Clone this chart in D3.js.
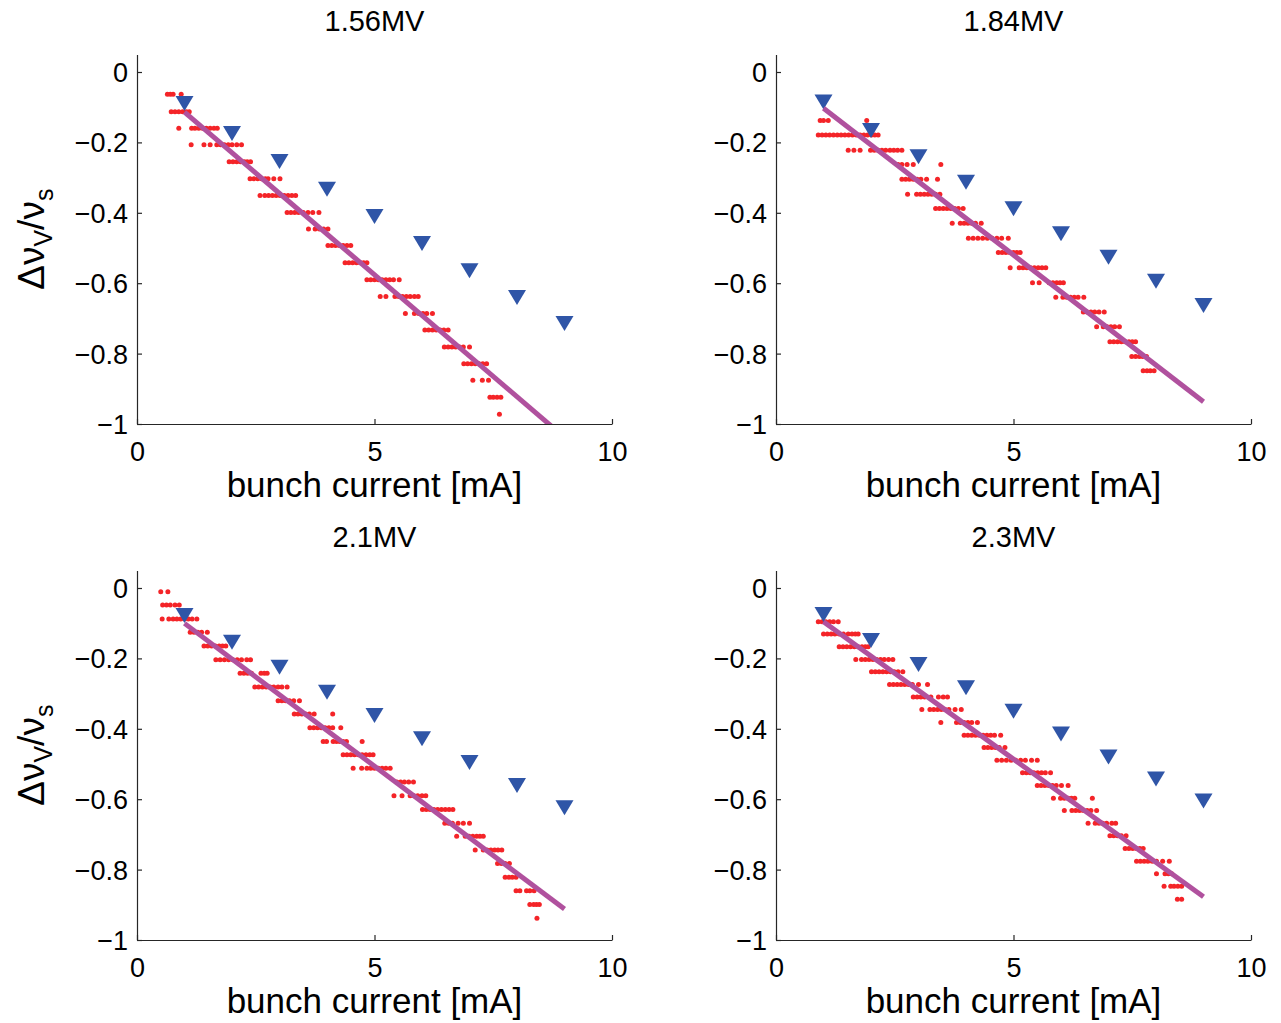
<!DOCTYPE html>
<html lang="en">
<head>
  <meta charset="UTF-8">
  <title>Tune shift vs bunch current</title>
  <style>
    body { margin: 0; background: #fff; }
    svg text { font-family: "Liberation Sans", Arial, sans-serif; fill: #000; }
    .axis path, .axis line { stroke: #262626; stroke-width: 1.2; }
    .axis text { font-size: 27px; }
  </style>
  <script src="https://d3js.org/d3.v7.min.js"></script>
</head>
<body>
  <svg id="chart" width="1281" height="1023"></svg>
  <script>
    // bunch current [mA] of the simulated points
    const currents = [1, 2, 3, 4, 5, 6, 7, 8, 9];
    const xTicks = [0, 5, 10];
    const yTicks = [0, -0.2, -0.4, -0.6, -0.8, -1];
    const titles = ["1.56MV", "1.84MV", "2.1MV", "2.3MV"];

    // simulation (blue triangles)
    const sim156 = [-0.088, -0.173, -0.253, -0.332, -0.409, -0.486, -0.563, -0.639, -0.713];
    const sim184 = [-0.084, -0.165, -0.239, -0.312, -0.387, -0.458, -0.525, -0.593, -0.662];
    const sim210 = [-0.077, -0.153, -0.224, -0.295, -0.361, -0.427, -0.494, -0.560, -0.623];
    const sim230 = [-0.074, -0.148, -0.216, -0.282, -0.349, -0.413, -0.479, -0.541, -0.604];

    // linear fits [current, shift] end points
    const fit156 = [[1, -0.114], [9, -1.038]];
    const fit184 = [[1, -0.103], [9, -0.937]];
    const fit210 = [[1, -0.1005], [9, -0.912]];
    const fit230 = [[1, -0.0957], [9, -0.877]];

    // measurement (red dots), rows of [shift, currents]
    const meas156 = [
      [-0.063, [0.64, 0.70, 0.76, 0.93]],
      [-0.113, [0.72, 0.80, 0.88, 0.96, 1.04, 1.10]],
      [-0.160, [0.88, 1.15, 1.22, 1.30, 1.38, 1.46, 1.54, 1.62, 1.69]],
      [-0.207, [1.14, 1.41, 1.54, 1.68, 1.76, 1.84, 1.92, 2.00, 2.10, 2.20]],
      [-0.255, [1.94, 2.02, 2.10, 2.18, 2.26, 2.32, 2.39]],
      [-0.303, [2.38, 2.46, 2.54, 2.62, 2.70, 2.76, 2.88, 3.01]],
      [-0.351, [2.59, 2.69, 2.77, 2.85, 2.93, 3.01, 3.10, 3.18, 3.26, 3.34]],
      [-0.399, [3.16, 3.24, 3.32, 3.40, 3.50, 3.60, 3.70, 3.83]],
      [-0.446, [3.61, 3.75, 3.84, 3.93, 4.02]],
      [-0.493, [4.02, 4.10, 4.18, 4.26, 4.34, 4.42, 4.50]],
      [-0.542, [4.38, 4.46, 4.54, 4.62, 4.70, 4.77, 4.84]],
      [-0.590, [4.84, 4.92, 5.00, 5.08, 5.16, 5.24, 5.32, 5.40, 5.52]],
      [-0.638, [5.12, 5.24, 5.43, 5.51, 5.59, 5.67, 5.75, 5.84, 5.92]],
      [-0.686, [5.65, 5.84, 5.93, 6.02, 6.10, 6.22]],
      [-0.733, [6.06, 6.14, 6.22, 6.30, 6.38, 6.46, 6.55]],
      [-0.781, [6.47, 6.55, 6.63, 6.71, 6.79, 6.87, 7.00]],
      [-0.829, [6.88, 6.96, 7.04, 7.12, 7.20, 7.28, 7.36]],
      [-0.876, [7.07, 7.27, 7.40]],
      [-0.924, [7.43, 7.50, 7.58, 7.66]],
      [-0.972, [7.63]]
    ];
    const meas184 = [
      [-0.138, [0.93, 1.00, 1.10, 1.91]],
      [-0.179, [0.89, 0.97, 1.05, 1.13, 1.21, 1.29, 1.37, 1.45, 1.53, 1.61, 1.69, 1.77, 1.85, 1.93, 2.01, 2.08, 2.15]],
      [-0.222, [1.52, 1.64, 1.77, 1.99, 2.07, 2.15, 2.23, 2.31, 2.40, 2.48, 2.56, 2.65]],
      [-0.263, [2.57, 2.65, 2.76, 2.89, 3.47]],
      [-0.305, [2.65, 2.73, 2.81, 2.89, 2.97, 3.05, 3.17, 3.40]],
      [-0.347, [2.77, 2.96, 3.04, 3.12, 3.20, 3.28, 3.36, 3.45]],
      [-0.388, [3.36, 3.44, 3.52, 3.60, 3.68, 3.76, 3.84, 3.94]],
      [-0.430, [3.71, 3.88, 3.96, 4.04, 4.12, 4.20, 4.32]],
      [-0.472, [4.05, 4.15, 4.25, 4.35, 4.45, 4.55, 4.65, 4.75, 4.89]],
      [-0.513, [4.68, 4.76, 4.84, 4.92, 5.00, 5.07, 5.14]],
      [-0.556, [4.93, 5.12, 5.20, 5.28, 5.36, 5.44, 5.52, 5.60, 5.68]],
      [-0.599, [5.40, 5.54, 5.75, 5.83, 5.91, 5.98, 6.05]],
      [-0.640, [5.89, 6.04, 6.12, 6.20, 6.28, 6.36, 6.48]],
      [-0.682, [6.47, 6.55, 6.63, 6.71, 6.80, 6.91]],
      [-0.724, [6.75, 6.89, 6.97, 7.05, 7.13, 7.23]],
      [-0.766, [7.03, 7.11, 7.19, 7.27, 7.35, 7.43, 7.50, 7.57]],
      [-0.808, [7.49, 7.57, 7.65, 7.72, 7.80]],
      [-0.849, [7.73, 7.81, 7.88, 7.96]]
    ];
    const meas210 = [
      [-0.011, [0.50, 0.65]],
      [-0.048, [0.54, 0.62, 0.70, 0.80, 0.89]],
      [-0.088, [0.53, 0.67, 0.76, 0.84, 0.92, 1.00, 1.08, 1.16, 1.26]],
      [-0.126, [1.12, 1.20, 1.28, 1.36, 1.48]],
      [-0.165, [1.41, 1.49, 1.57, 1.65, 1.73, 1.80, 1.87]],
      [-0.204, [1.66, 1.75, 1.84, 1.93, 2.02, 2.11, 2.20, 2.31, 2.39]],
      [-0.242, [2.17, 2.25, 2.33, 2.41, 2.61, 2.68, 2.74]],
      [-0.281, [2.48, 2.56, 2.64, 2.72, 2.80, 2.88, 2.97, 3.05, 3.16]],
      [-0.320, [2.97, 3.05, 3.13, 3.21, 3.30, 3.42]],
      [-0.358, [3.31, 3.39, 3.47, 3.55, 3.63, 3.73, 4.12]],
      [-0.397, [3.64, 3.72, 3.80, 3.88, 3.96, 4.04, 4.12, 4.29]],
      [-0.436, [3.92, 3.99, 4.13, 4.20, 4.27, 4.34, 4.41, 4.74]],
      [-0.474, [4.34, 4.42, 4.50, 4.58, 4.66, 4.74, 4.82, 4.90, 4.97]],
      [-0.512, [4.55, 4.73, 4.84, 4.92, 5.00, 5.08, 5.16, 5.24, 5.33]],
      [-0.551, [5.47, 5.55, 5.63, 5.72, 5.82]],
      [-0.590, [5.41, 5.58, 5.75, 5.83, 5.91, 6.00, 6.08]],
      [-0.629, [6.01, 6.09, 6.17, 6.25, 6.33, 6.41, 6.49, 6.57, 6.65]],
      [-0.668, [6.48, 6.56, 6.64, 6.76, 6.87, 7.00]],
      [-0.705, [6.73, 6.91, 6.99, 7.07, 7.15, 7.22, 7.29]],
      [-0.744, [7.12, 7.29, 7.37, 7.45, 7.53, 7.60, 7.68]],
      [-0.783, [7.59, 7.67, 7.75, 7.84]],
      [-0.822, [7.75, 7.83, 7.90, 7.98]],
      [-0.860, [7.98, 8.06, 8.20, 8.27, 8.36]],
      [-0.899, [8.27, 8.35, 8.41, 8.47]],
      [-0.938, [8.42]]
    ];
    const meas230 = [
      [-0.096, [0.89, 0.97, 1.05, 1.13, 1.21, 1.31]],
      [-0.131, [1.00, 1.08, 1.16, 1.24, 1.33, 1.42, 1.52, 1.60, 1.67, 1.73]],
      [-0.167, [1.33, 1.41, 1.49, 1.57, 1.65, 1.73, 1.81, 1.88, 1.94]],
      [-0.203, [1.68, 1.80, 1.88, 1.96, 2.04, 2.12, 2.20, 2.28, 2.37, 2.46]],
      [-0.238, [2.01, 2.09, 2.17, 2.25, 2.33, 2.41, 2.49, 2.57, 2.67]],
      [-0.274, [2.39, 2.47, 2.55, 2.63, 2.71, 2.79, 2.87, 3.00, 3.19]],
      [-0.310, [2.89, 2.97, 3.05, 3.13, 3.26, 3.42, 3.52, 3.61]],
      [-0.345, [3.07, 3.24, 3.32, 3.40, 3.48, 3.56, 3.64, 3.77, 3.90]],
      [-0.382, [3.47, 3.80, 3.88, 3.96, 4.04, 4.12, 4.24]],
      [-0.418, [3.96, 4.04, 4.12, 4.20, 4.28, 4.36, 4.44, 4.52, 4.60, 4.73]],
      [-0.453, [4.38, 4.46, 4.54, 4.62, 4.70, 4.82]],
      [-0.489, [4.65, 4.75, 4.85, 4.95, 5.05, 5.15, 5.25, 5.38, 5.50]],
      [-0.525, [5.19, 5.27, 5.35, 5.43, 5.51, 5.59, 5.67, 5.78]],
      [-0.561, [5.50, 5.58, 5.66, 5.74, 5.82, 5.90, 6.01, 6.15]],
      [-0.597, [5.84, 5.99, 6.07, 6.15, 6.22, 6.29, 6.66]],
      [-0.632, [6.07, 6.23, 6.31, 6.39, 6.47, 6.55, 6.63, 6.75]],
      [-0.668, [6.57, 6.72, 6.80, 6.88, 6.96, 7.07, 7.15]],
      [-0.704, [7.03, 7.11, 7.19, 7.27, 7.37]],
      [-0.740, [7.35, 7.43, 7.51, 7.59, 7.66, 7.73]],
      [-0.776, [7.59, 7.67, 7.75, 7.83, 7.92, 8.01, 8.14, 8.28]],
      [-0.812, [8.01, 8.19, 8.26, 8.33]],
      [-0.847, [8.17, 8.31, 8.38, 8.46, 8.54]],
      [-0.884, [8.45, 8.54]]
    ];

    const svg = d3.select("svg#chart");
    const plotW = 475;
    const plotH = 369.6;

    const panels = [
      { left: 137, top: 54.4, title: titles[0], sim: sim156, fit: fit156, meas: meas156, ylab: true },
      { left: 776, top: 54.4, title: titles[1], sim: sim184, fit: fit184, meas: meas184, ylab: false },
      { left: 137, top: 570.4, title: titles[2], sim: sim210, fit: fit210, meas: meas210, ylab: true },
      { left: 776, top: 570.4, title: titles[3], sim: sim230, fit: fit230, meas: meas230, ylab: false }
    ];

    const fmt = d => (d < 0 ? "\u2212" : "") + Math.abs(d);

    panels.forEach((p, i) => {
      const xScale = d3.scaleLinear().domain([0, 10]).range([0, plotW]);
      const yScale = d3.scaleLinear().domain([-1, 0.05]).range([plotH, 0]);

      const g = svg.append("g")
        .attr("transform", `translate(${p.left},${p.top})`);

      g.append("clipPath").attr("id", "clip" + i)
        .append("rect")
        .attr("width", plotW).attr("height", plotH);

      const plot = g.append("g").attr("clip-path", `url(#clip${i})`);

      // measured points
      const dots = [];
      p.meas.forEach(([y, xs]) => xs.forEach(x => dots.push({ x: x, y: y })));
      plot.selectAll("circle.meas")
        .data(dots)
        .join("circle")
        .attr("class", "meas")
        .attr("cx", d => xScale(d.x))
        .attr("cy", d => yScale(d.y))
        .attr("r", 2.5)
        .attr("fill", "#f42428");

      // simulation triangles
      plot.selectAll("path.sim")
        .data(currents.map((c, k) => ({ x: c, y: p.sim[k] })))
        .join("path")
        .attr("class", "sim")
        .attr("d", "M-9,-7L9,-7L0,8Z")
        .attr("transform", d => `translate(${xScale(d.x)},${yScale(d.y)})`)
        .attr("fill", "#2f55a7");

      // fit line
      plot.append("path")
        .datum(p.fit)
        .attr("d", d3.line().x(d => xScale(d[0])).y(d => yScale(d[1])))
        .attr("fill", "none")
        .attr("stroke", "#b0519e")
        .attr("stroke-width", 5);

      // axes, ticks inward
      g.append("g")
        .attr("class", "axis")
        .call(d3.axisLeft(yScale).tickValues(yTicks).tickSizeInner(-5).tickSizeOuter(0)
          .tickPadding(9).tickFormat(fmt))
        .call(a => a.selectAll("text").attr("dy", "0.35em"));

      g.append("g")
        .attr("class", "axis")
        .attr("transform", `translate(0,${plotH})`)
        .call(d3.axisBottom(xScale).tickValues(xTicks).tickSizeInner(-5).tickSizeOuter(0)
          .tickPadding(18).tickFormat(d3.format("d")));

      g.selectAll(".axis text").attr("font-family", null).attr("font-size", null);

      g.append("text")
        .attr("x", plotW / 2)
        .attr("y", -23)
        .attr("text-anchor", "middle")
        .style("font-size", "29px")
        .text(p.title);

      g.append("text")
        .attr("x", plotW / 2)
        .attr("y", plotH + 73)
        .attr("text-anchor", "middle")
        .style("font-size", "35px")
        .text("bunch current [mA]");

      if (p.ylab) {
        const yl = g.append("text")
          .attr("transform", `translate(-93,${plotH / 2}) rotate(-90)`)
          .attr("text-anchor", "middle")
          .style("font-size", "37px");
        yl.append("tspan").text("\u0394\u03bd");
        yl.append("tspan").attr("dy", 8).style("font-size", "25px").text("V");
        yl.append("tspan").attr("dy", -8).text("/\u03bd");
        yl.append("tspan").attr("dy", 9).style("font-size", "25px").text("s");
      }
    });
  </script>
</body>
</html>
